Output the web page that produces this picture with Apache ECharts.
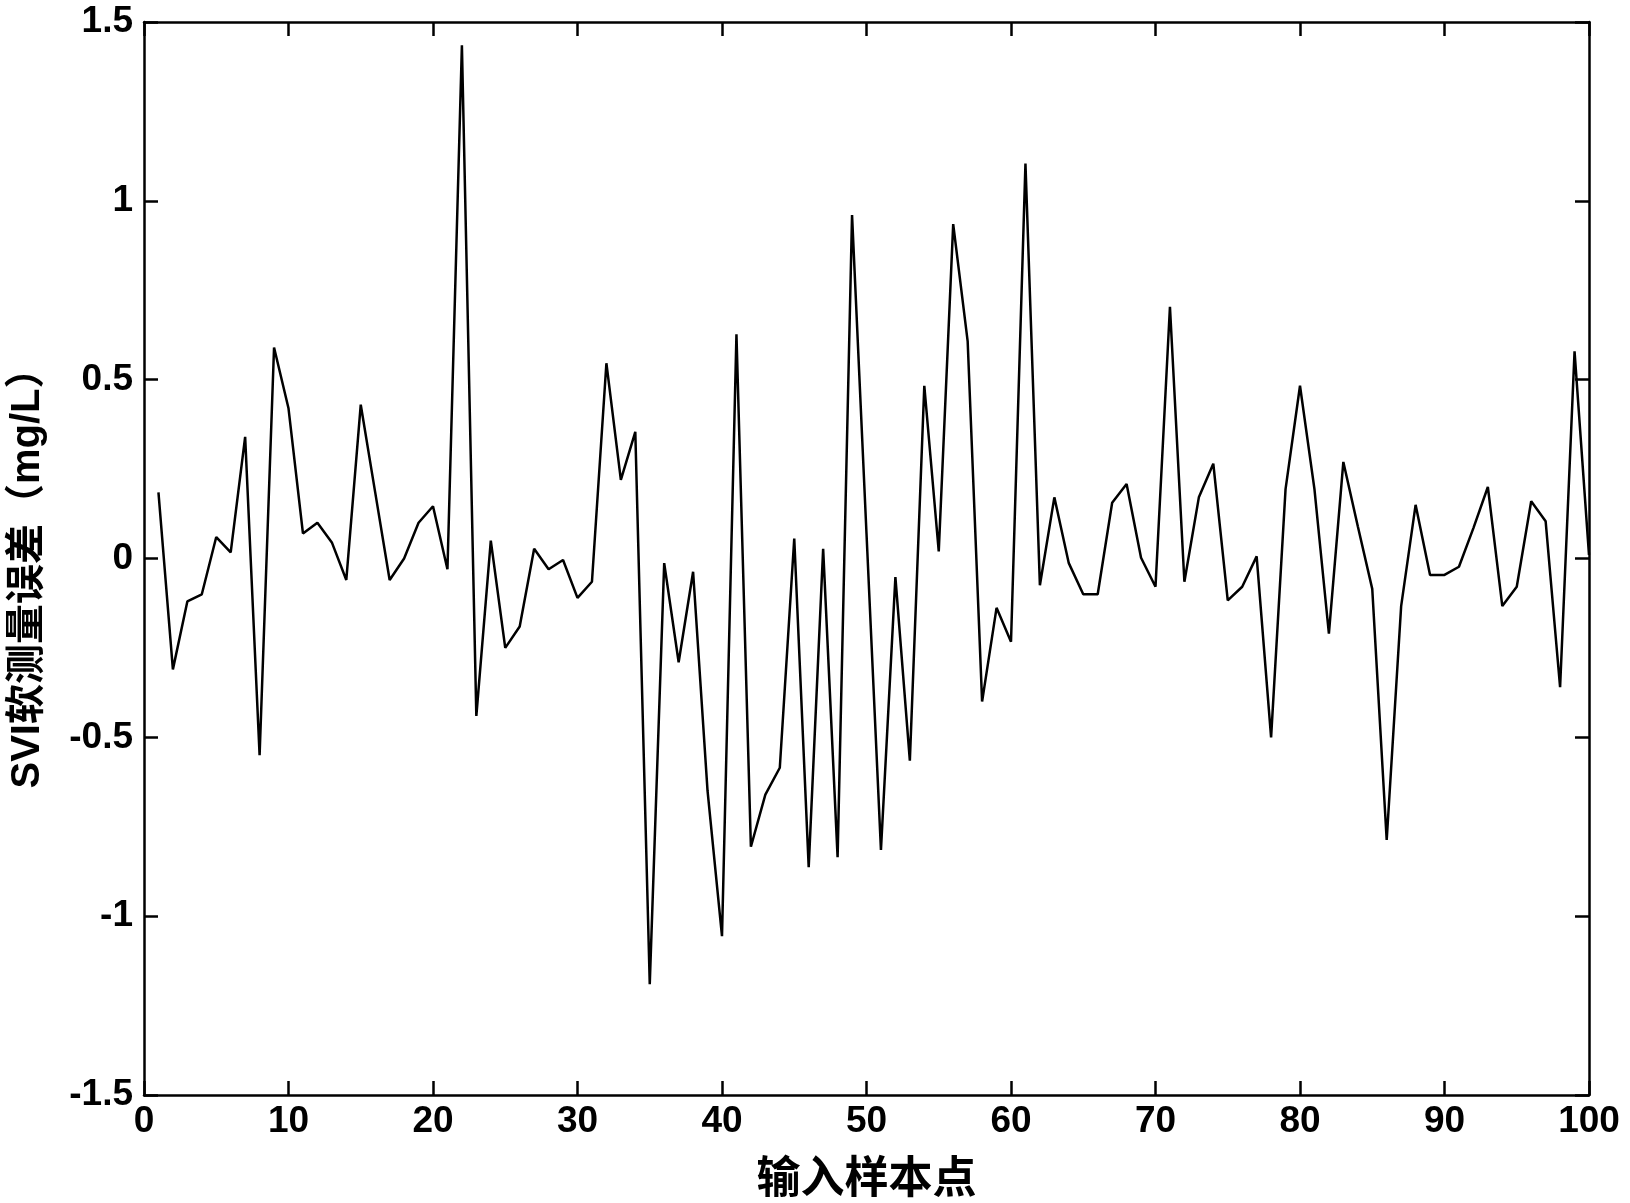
<!DOCTYPE html>
<html>
<head>
<meta charset="utf-8">
<script src="https://cdn.jsdelivr.net/npm/echarts@6/dist/echarts.min.js"></script>
<style>html,body{margin:0;padding:0;background:#fff}#c{width:1630px;height:1203px}</style>
</head>
<body>
<div id="c"></div>
<script>
const sampleIdx = [1,2,3,4,5,6,7,8,9,10,11,12,13,14,15,16,17,18,19,20,
21,22,23,24,25,26,27,28,29,30,31,32,33,34,35,36,37,38,39,40,
41,42,43,44,45,46,47,48,49,50,51,52,53,54,55,56,57,58,59,60,
61,62,63,64,65,66,67,68,69,70,71,72,73,74,75,76,77,78,79,80,
81,82,83,84,85,86,87,88,89,90,91,92,93,94,95,96,97,98,99,100];
const errorVals = [0.185,-0.31,-0.12,-0.10,0.06,0.017,0.34,-0.55,0.59,0.42,
0.07,0.10,0.045,-0.06,0.43,0.185,-0.06,0.0,0.10,0.146,
-0.03,1.435,-0.44,0.05,-0.25,-0.19,0.027,-0.03,-0.004,-0.11,
-0.065,0.546,0.22,0.354,-1.19,-0.013,-0.29,-0.037,-0.65,-1.056,
0.627,-0.806,-0.66,-0.585,0.056,-0.863,0.027,-0.835,0.96,0.07,
-0.815,-0.052,-0.565,0.483,0.02,0.935,0.608,-0.40,-0.138,-0.233,
1.104,-0.075,0.171,-0.013,-0.10,-0.10,0.156,0.208,0.002,-0.079,
0.704,-0.065,0.171,0.265,-0.117,-0.079,0.006,-0.50,0.194,0.483,
0.194,-0.21,0.27,0.09,-0.085,-0.787,-0.133,0.15,-0.046,-0.046,
-0.023,0.085,0.20,-0.133,-0.079,0.16,0.104,-0.36,0.579,0.01];
const xRange = [0, 100, 10];
const yRange = [-1.5, 1.5, 0.5];
const xName = '输入样本点';
const yName = 'SVI软测量误差（mg/L）';

const FONT = "'Liberation Sans', 'Noto Sans CJK SC', sans-serif";
const axisLine = {show: true, onZero: false, lineStyle: {color: '#000', width: 2.5}};
const tick = {show: true, inside: true, length: 14, lineStyle: {color: '#000', width: 2.5}};

const chart = echarts.init(document.getElementById('c'), null, {renderer: 'canvas'});
chart.setOption({
  animation: false,
  backgroundColor: '#fff',
  grid: {left: 144, right: 41, top: 22, bottom: 108, outerBoundsMode: 'none'},
  xAxis: [{
    type: 'value', min: xRange[0], max: xRange[1], interval: xRange[2],
    position: 'bottom',
    axisLine: axisLine, axisTick: tick, splitLine: {show: false},
    axisLabel: {color: '#000', fontFamily: FONT, fontWeight: 'bold', fontSize: 37, margin: 8},
    name: xName, nameLocation: 'middle', nameGap: 64,
    nameTextStyle: {color: '#000', fontFamily: FONT, fontWeight: 'bold', fontSize: 44}
  }, {
    type: 'value', min: xRange[0], max: xRange[1], interval: xRange[2],
    position: 'top',
    axisLine: axisLine, axisTick: tick, splitLine: {show: false},
    axisLabel: {show: false}
  }],
  yAxis: [{
    type: 'value', min: yRange[0], max: yRange[1], interval: yRange[2],
    position: 'left',
    axisLine: axisLine, axisTick: tick, splitLine: {show: false},
    axisLabel: {color: '#000', fontFamily: FONT, fontWeight: 'bold', fontSize: 37, margin: 11},
    name: yName, nameLocation: 'middle', nameGap: 96, nameRotate: 90,
    nameTextStyle: {color: '#000', fontFamily: FONT, fontWeight: 'bold', fontSize: 40, padding: [0, 20, 0, 0]}
  }, {
    type: 'value', min: yRange[0], max: yRange[1], interval: yRange[2],
    position: 'right',
    axisLine: axisLine, axisTick: tick, splitLine: {show: false},
    axisLabel: {show: false}
  }],
  series: [{
    type: 'line',
    xAxisIndex: 0, yAxisIndex: 0,
    data: sampleIdx.map((x, i) => [x, errorVals[i]]),
    showSymbol: false,
    lineStyle: {color: '#000', width: 2.5},
    silent: true
  }]
});
</script>
</body>
</html>
